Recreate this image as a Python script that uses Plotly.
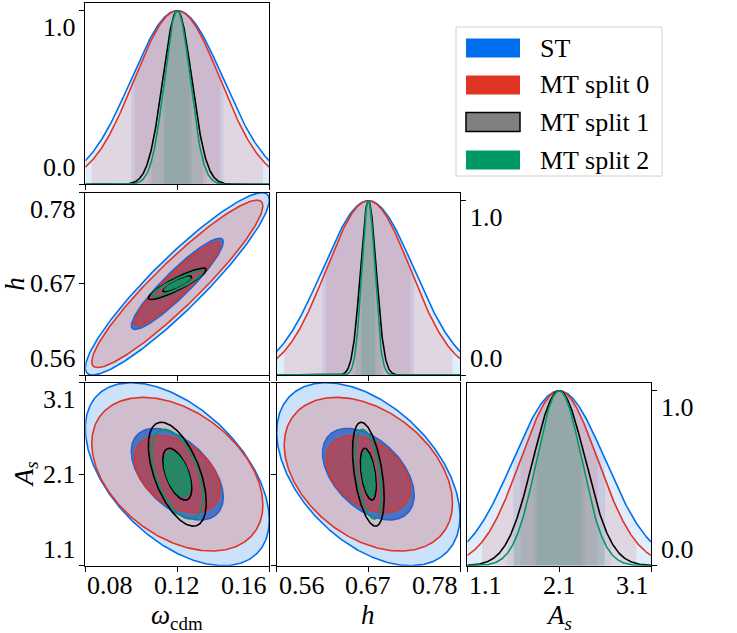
import numpy as np
import plotly.graph_objects as go

# ---------------- data ----------------
series_names = ["ST", "MT split 0", "MT split 1", "MT split 2"]
line_colors = ["#006FED", "#E03424", "#000000", "#009966"]
patch_colors = ["#006FED", "#E03424", "#808080", "#009966"]
rgb = [(0, 111, 237), (224, 52, 36), (128, 128, 128), (0, 153, 102)]

param_labels = ["<i>ω</i><sub>cdm</sub>", "<i>h</i>", "<i>A<sub>s</sub></i>"]
param_centers = [0.12, 0.67, 2.1]          # omega_cdm, h, A_s
sigma_omega = [0.0200, 0.0186, 0.0063, 0.0056]
sigma_h = [0.0550, 0.0505, 0.0095, 0.0078]
sigma_As = [0.500, 0.420, 0.284, 0.245]
rho_omega_h = [0.92, 0.93, 0.90, 0.90]
rho_omega_As = [-0.50, -0.40, -0.55, -0.50]
rho_h_As = [-0.46, -0.38, -0.45, -0.45]

omega_ticks = [0.08, 0.12, 0.16]
omega_ticklabels = ["0.08", "0.12", "0.16"]
h_ticks = [0.56, 0.67, 0.78]
h_ticklabels = ["0.56", "0.67", "0.78"]
As_ticks = [1.1, 2.1, 3.1]
As_ticklabels = ["1.1", "2.1", "3.1"]
diag_ticks = [0.0, 1.0]
diag_ticklabels = ["0.0", "1.0"]

# ---------------- styling / layout ----------------
W, H = 737, 633
FONT = "Liberation Serif, Times New Roman, serif"
sigmas = [sigma_omega, sigma_h, sigma_As]
ticks = [omega_ticks, h_ticks, As_ticks]
ticklabels = [omega_ticklabels, h_ticklabels, As_ticklabels]
rhos = {(0, 1): rho_omega_h, (0, 2): rho_omega_As, (1, 2): rho_h_As}
diag_top = 1.046

col_px = [(85.3, 269.3), (276.7, 460.0), (467.3, 651.0)]
row_px = [(2.7, 184.3), (192.7, 375.0), (382.7, 565.7)]
px2x = lambda p: p / W
px2y = lambda p: 1 - p / H

panel_id = {(0, 0): 1, (1, 0): 2, (1, 1): 3, (2, 0): 4, (2, 1): 5, (2, 2): 6}


def rgba(c, a):
    return "rgba(%d,%d,%d,%.3f)" % (c[0], c[1], c[2], a)


def tfont(size):
    return dict(family=FONT, size=size, color="black")


fig = go.Figure()

# 2D fill styles: (outer fill, inner fill) ; None = no fill
fills2d = [
    (rgba(rgb[0], 0.20), rgba(rgb[0], 0.82)),
    (rgba(rgb[1], 0.20), rgba(rgb[1], 0.60)),
    (None, None),
    (None, rgba(rgb[3], 0.75)),
]

t = np.linspace(0, 2 * np.pi, 361)
for (r, c), n in panel_id.items():
    xa = "x" if n == 1 else "x%d" % n
    ya = "y" if n == 1 else "y%d" % n
    lo, hi = ticks[c][0], ticks[c][-1]
    if r == c:
        mu = param_centers[c]
        xg = np.linspace(lo, hi, 400)
        for s in range(4):
            sg = sigmas[c][s]
            for k, a in ((2, 0.12), (1, 0.10)):
                a0, a1 = max(lo, mu - k * sg), min(hi, mu + k * sg)
                xs = np.linspace(a0, a1, 200)
                ys = np.exp(-0.5 * ((xs - mu) / sg) ** 2)
                fig.add_trace(go.Scatter(x=xs, y=ys, mode="lines", fill="tozeroy",
                                         fillcolor=rgba(rgb[s], a), line=dict(width=0),
                                         xaxis=xa, yaxis=ya, showlegend=False,
                                         hoverinfo="skip"))
        for s in range(4):
            sg = sigmas[c][s]
            ys = np.exp(-0.5 * ((xg - mu) / sg) ** 2)
            fig.add_trace(go.Scatter(x=xg, y=ys, mode="lines",
                                     line=dict(color=line_colors[s], width=1.6),
                                     xaxis=xa, yaxis=ya, showlegend=False,
                                     hoverinfo="skip"))
    else:
        mx, my = param_centers[c], param_centers[r]
        for s in range(4):
            sx, sy = sigmas[c][s], sigmas[r][s]
            rho = rhos[(c, r)][s]
            for k, rad in enumerate((2.0, 1.0)):
                ex = mx + rad * sx * np.cos(t)
                ey = my + rad * sy * (rho * np.cos(t) + np.sqrt(1 - rho ** 2) * np.sin(t))
                fc = fills2d[s][k]
                fig.add_trace(go.Scatter(x=ex, y=ey, mode="lines",
                                         fill="toself" if fc else "none",
                                         fillcolor=fc if fc else "rgba(0,0,0,0)",
                                         line=dict(color=line_colors[s], width=1.6),
                                         xaxis=xa, yaxis=ya, showlegend=False,
                                         hoverinfo="skip"))

axis_common = dict(showline=True, linecolor="black", linewidth=1, mirror=True,
                   ticks="outside", ticklen=5, tickwidth=1, tickcolor="black",
                   showgrid=False, zeroline=False, showticklabels=False)

layout = dict(width=W, height=H, margin=dict(l=0, r=0, t=0, b=0),
              paper_bgcolor="white", plot_bgcolor="white", showlegend=False,
              font=tfont(24))

annotations = []
for (r, c), n in panel_id.items():
    sx = "" if n == 1 else str(n)
    xdom = [px2x(col_px[c][0]), px2x(col_px[c][1])]
    ydom = [px2y(row_px[r][1]), px2y(row_px[r][0])]
    layout["xaxis" + sx] = dict(axis_common, domain=xdom, anchor="y" + sx,
                                range=[ticks[c][0], ticks[c][-1]], tickvals=ticks[c])
    if r == c:
        layout["yaxis" + sx] = dict(axis_common, domain=ydom, anchor="x" + sx,
                                    range=[0, diag_top], tickvals=diag_ticks,
                                    side="left" if c == 0 else "right")
    else:
        layout["yaxis" + sx] = dict(axis_common, domain=ydom, anchor="x" + sx,
                                    range=[ticks[r][0], ticks[r][-1]], tickvals=ticks[r])

xanch = ["left", "center", "right"]
for c in range(3):
    n = panel_id[(2, c)]
    for i, (v, lab) in enumerate(zip(ticks[c], ticklabels[c])):
        annotations.append(dict(x=v, xref="x%d" % n, y=px2y(569), yref="paper",
                                text=lab, showarrow=False, xanchor=xanch[i],
                                yanchor="top", font=tfont(26)))
for r in range(3):
    n = panel_id[(r, 0)]
    tv = diag_ticks if r == 0 else ticks[r]
    tl = diag_ticklabels if r == 0 else ticklabels[r]
    ya = "y" if n == 1 else "y%d" % n
    yanch = ["bottom", "middle", "top"] if len(tv) == 3 else ["bottom", "top"]
    for i, (v, lab) in enumerate(zip(tv, tl)):
        annotations.append(dict(x=px2x(78), xref="paper", y=v, yref=ya, text=lab,
                                showarrow=False, xanchor="right", yanchor=yanch[i],
                                font=tfont(26)))
for c in (1, 2):
    n = panel_id[(c, c)]
    for i, (v, lab) in enumerate(zip(diag_ticks, diag_ticklabels)):
        annotations.append(dict(x=px2x(col_px[c][1] + 8), xref="paper", y=v,
                                yref="y%d" % n, text=lab, showarrow=False,
                                xanchor="left", yanchor=["bottom", "top"][i],
                                font=tfont(26)))
for c in range(3):
    annotations.append(dict(x=px2x(sum(col_px[c]) / 2), xref="paper", y=px2y(598),
                            yref="paper", text=param_labels[c], showarrow=False,
                            xanchor="center", yanchor="top", font=tfont(27)))
annotations.append(dict(x=px2x(15), xref="paper", y=px2y(sum(row_px[1]) / 2), yref="paper",
                        text=param_labels[1], showarrow=False, textangle=-90,
                        xanchor="center", yanchor="middle", font=tfont(27)))
annotations.append(dict(x=px2x(26), xref="paper", y=px2y(sum(row_px[2]) / 2), yref="paper",
                        text=param_labels[2], showarrow=False, textangle=-90,
                        xanchor="center", yanchor="middle", font=tfont(27)))

shapes = [dict(type="rect", xref="paper", yref="paper", x0=px2x(456), x1=px2x(662),
               y0=px2y(176), y1=px2y(27), line=dict(color="#d0d0d0", width=1),
               fillcolor="white", layer="above")]
leg_y = [48, 85, 122, 160]
for s in range(4):
    shapes.append(dict(type="rect", xref="paper", yref="paper", x0=px2x(466), x1=px2x(520),
                       y0=px2y(leg_y[s] + 9.5), y1=px2y(leg_y[s] - 9.5),
                       fillcolor=patch_colors[s],
                       line=dict(color="black" if s == 2 else patch_colors[s],
                                 width=1.5 if s == 2 else 0), layer="above"))
    annotations.append(dict(x=px2x(538), xref="paper", y=px2y(leg_y[s]), yref="paper",
                            text=series_names[s], showarrow=False, xanchor="left",
                            yanchor="middle", font=tfont(26)))

layout["annotations"] = annotations
layout["shapes"] = shapes
fig.update_layout(**layout)
fig.write_html("out.html", config={"displayModeBar": False},
               post_script="document.body.style.margin='0';document.body.style.padding='0';")
